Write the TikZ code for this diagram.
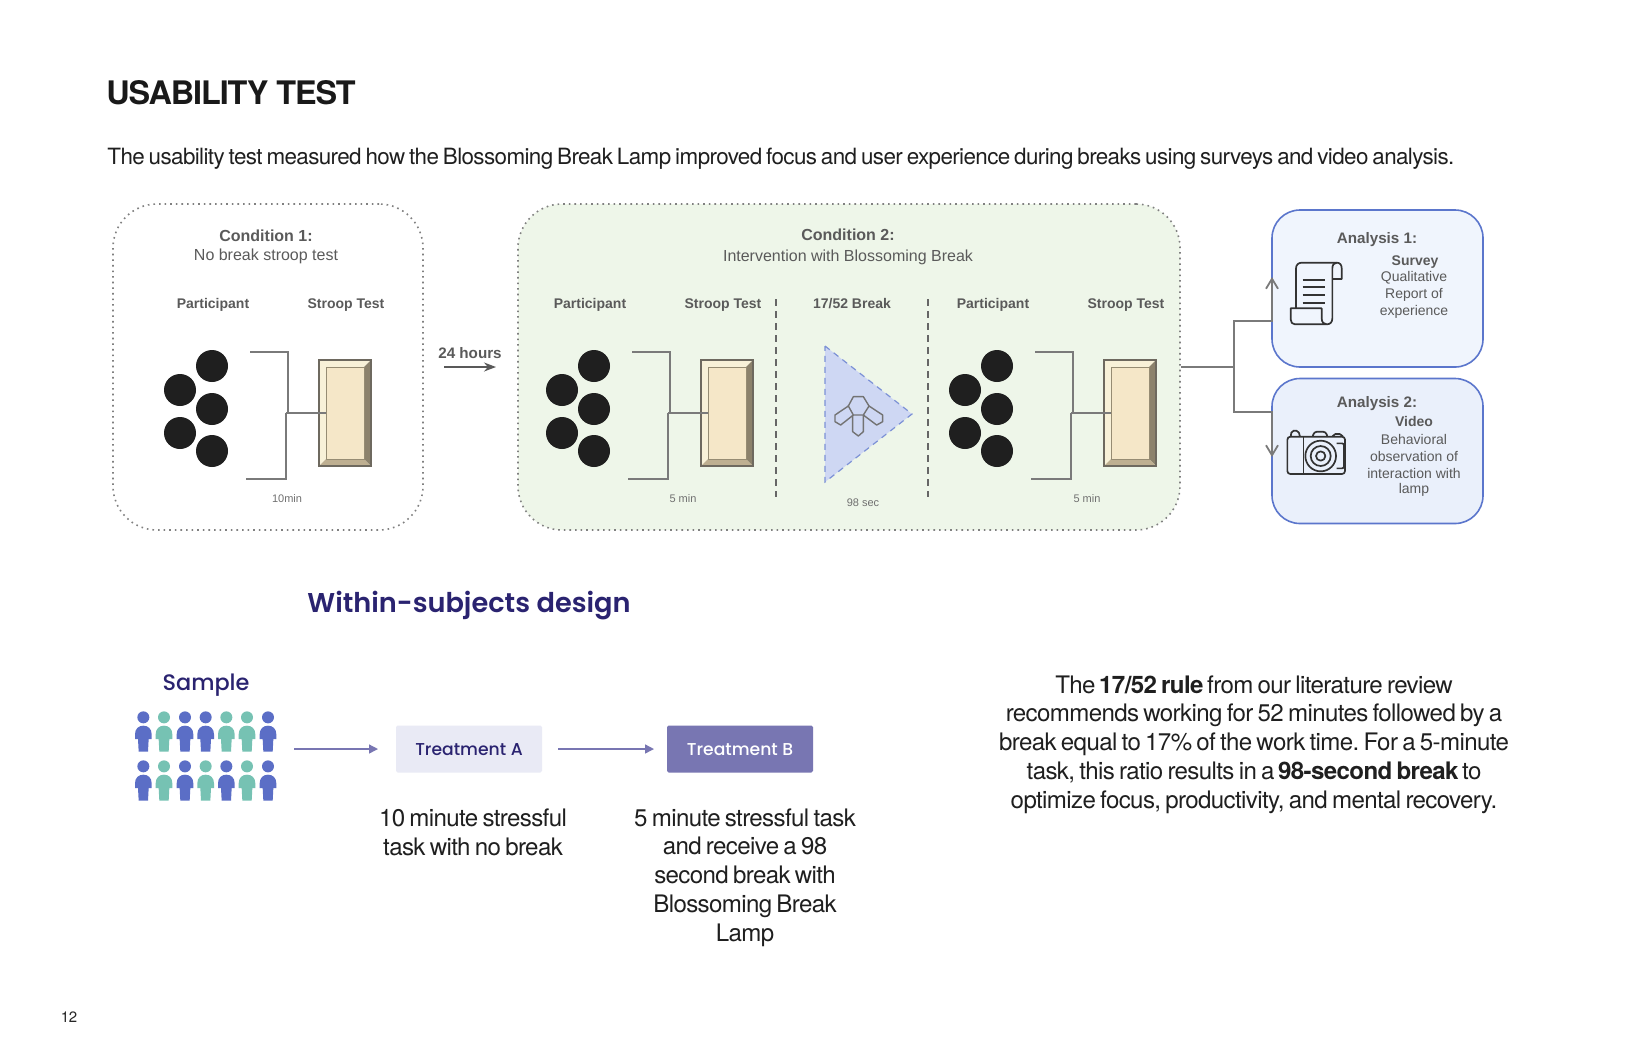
\documentclass[tikz,border=0pt]{standalone}
\usepackage{fontspec}
\setmainfont{Liberation Sans}
\newfontfamily\bodyf[LetterSpace=-2.6,WordSpace=0.7]{TeX Gyre Heros}
\newfontfamily\subf[LetterSpace=-2.7,WordSpace=0.7]{TeX Gyre Heros}
\newfontfamily\titlef[LetterSpace=-3.4]{TeX Gyre Heros}
\newfontfamily\popf{Poppins}
\newfontfamily\popsb{Poppins SemiBold}
\newfontfamily\popmd{Poppins Medium}
\usetikzlibrary{arrows.meta}
\definecolor{navy}{HTML}{2A2370}
\definecolor{dgray}{HTML}{5A5A5A}
\definecolor{lgray}{HTML}{707070}
\definecolor{linegray}{HTML}{7A7A7A}
\definecolor{pblue}{HTML}{5B6EC6}
\definecolor{pgreen}{HTML}{76C2B3}
\definecolor{pur}{HTML}{7876B2}
\definecolor{anblue}{HTML}{5B76CC}
\tikzset{
  dlab/.style={font=\fontsize{7}{8}\selectfont\bfseries,text=dgray,inner sep=0pt},
  hlab/.style={font=\fontsize{8}{9}\selectfont\bfseries,text=dgray,inner sep=0pt},
  hsub/.style={font=\fontsize{8}{9}\selectfont,text=dgray,inner sep=0pt},
  alab/.style={font=\fontsize{7}{8}\selectfont,text=dgray,inner sep=0pt},
  tiny lab/.style={font=\fontsize{5.5}{6}\selectfont,text=lgray,inner sep=0pt},
  bodytxt/.style={font=\bodyf\frenchspacing\fontsize{12.05}{14.4}\selectfont,text=black!88,inner sep=0pt,align=center},
  dotc/.style={circle,fill=black!88,minimum size=16pt,inner sep=0pt,draw=none},
  condbox/.style={rounded corners=22pt,inner sep=0pt,dotted,draw=black!50,line width=.8pt},
  anbox/.style={rounded corners=14pt,inner sep=0pt,draw=anblue,line width=.8pt},
  brk/.style={draw=linegray,line width=.8pt},
  iconln/.style={draw=black!80,line width=.85pt,line join=round},
  tbox/.style={inner sep=0pt,minimum width=73pt,minimum height=23.5pt,rounded corners=.8pt,
     font=\popmd\fontsize{8.6}{10}\selectfont},
  flow/.style={draw=pur,line width=.7pt,-{Triangle[length=4.5pt,width=4.5pt]}},
  pics/partgroup/.style n args={3}{code={
    \node[dlab] (-part) at (213+#2,305) {Participant};
    \node[dlab] (-stl) at (346+#2,305) {Stroop Test};
    \node[dotc] (-c1) at (212,366) {};
    \node[dotc] (-c2) at (180,390) {};
    \node[dotc] (-c3) at (212,409) {};
    \node[dotc] (-c4) at (180,433) {};
    \node[dotc] (-c5) at (212,451) {};
    \fill[fill={rgb,255:red,248;green,241;blue,216}] (319,360) -- (371,360) -- (364,367) -- (326,367) -- (326,459) -- (319,466) -- cycle;
    \fill[fill={rgb,255:red,140;green,130;blue,108}] (371,360) -- (371,466) -- (364,459) -- (364,367) -- cycle;
    \fill[fill={rgb,255:red,190;green,175;blue,145}] (319,466) -- (371,466) -- (364,459) -- (326,459) -- cycle;
    \node[draw={rgb,255:red,110;green,105;blue,95},line width=.6pt,minimum width=26pt,minimum height=53pt,inner sep=0pt] (-st) at (345,413) {};
    \node[fill={rgb,255:red,245;green,231;blue,200},draw={rgb,255:red,150;green,140;blue,115},line width=.4pt,minimum width=19pt,minimum height=46pt,inner sep=0pt] (-sti) at (345,413) {};
    \coordinate (-t) at (250,352);
    \coordinate (-b) at (246,479);
    \draw[brk] (-t) -| (288,413);
    \draw[brk] (-b) -| (286,413);
    \draw[brk] (286,413) -- (-sti.west);
    \node[tiny lab] (-tm) at (287+#3,499) {#1};
  }},
}
\newcommand\person[4]{% #1 colour, #2 x, #3 head y, #4 body top
  \fill[#1] (#2,#3) circle[radius=18];
  \fill[#1] (#2-25,#4+40) -- (#2-25,#4+26) .. controls (#2-25,#4+9) and (#2-14,#4) .. (#2,#4)
    .. controls (#2+14,#4) and (#2+25,#4+9) .. (#2+25,#4+26) -- (#2+25,#4+40) -- (#2+16,#4+40) -- (#2+14,#4+78)
    -- (#2-14,#4+78) -- (#2-16,#4+40) -- cycle;
}
\begin{document}
\begin{tikzpicture}[x=.5pt,y=-.5pt]
\useasboundingbox (0,0) rectangle (1626,1051);
\fill[white] (0,0) rectangle (1626,1051);
% heading
\node[anchor=west,inner sep=0pt,font=\titlef\fontsize{16.2}{18}\selectfont\bfseries,text=black!90] (title) at (106,93) {USABILITY TEST};
\node[anchor=west,inner sep=0pt,font=\subf\fontsize{11.2}{14}\selectfont,text=black!88] (sub) at (107,159) {The usability test measured how the Blossoming Break Lamp improved focus and user experience during breaks using surveys and video analysis.};
% condition containers
\node[condbox,minimum width=155pt,minimum height=163pt] (cond1) at (268,367) {};
\node[condbox,fill={rgb,255:red,238;green,246;blue,233},minimum width=331pt,minimum height=163pt] (cond2) at (849,367) {};
\node[hlab] (c1t) at (266,236) {Condition 1:};
\node[hsub] (c1s) at (266,256) {No break stroop test};
\node[hlab] (c2t) at (848,235) {Condition 2:};
\node[hsub] (c2s) at (848,257) {Intervention with Blossoming Break};
% groups
\pic (g1) at (0,0) {partgroup={10min}{0}{0}};
\pic (g2) at (382,0) {partgroup={5 min}{-5}{14}};
\pic (g3) at (785,0) {partgroup={5 min}{-5}{15}};
% 24 hours
\node[dlab,font=\fontsize{7.6}{9}\selectfont\bfseries] (h24) at (470,353) {24 hours};
\coordinate (h24a) at (444,367);
\coordinate (h24b) at (496,367);
\draw[draw=black!65,line width=.7pt,-{Stealth[length=6pt,width=4.5pt]}] (h24a) -- (h24b);
% break column
\node[dlab] (brk) at (852,304) {17/52 Break};
\coordinate (d1a) at (776,299); \coordinate (d1b) at (776,497);
\coordinate (d2a) at (928,299); \coordinate (d2b) at (928,497);
\draw[draw=black!60,line width=.7pt,dash pattern=on 3.5pt off 2.5pt] (d1a) -- (d1b);
\draw[draw=black!60,line width=.7pt,dash pattern=on 3.5pt off 2.5pt] (d2a) -- (d2b);
\draw[fill={rgb,255:red,206;green,215;blue,243},draw=anblue!80,line width=.6pt,dash pattern=on 3pt off 2.5pt] (825,346) -- (912,414) -- (825,482) -- cycle;
\node[tiny lab] (sec) at (863,503) {98 sec};
\begin{scope}[shift={(720,280)},x=.16667pt,y=-.16667pt]
  \draw[draw=black!55,line width=.7pt,line join=round] (400,350) -- (430,350) -- (447,378) -- (430,405) -- (400,405) -- (385,378) -- cycle;
  \draw[draw=black!55,line width=.7pt,line join=round] (385,378) -- (345,405) -- (345,425) -- (362,435) -- (400,405);
  \draw[draw=black!55,line width=.7pt,line join=round] (447,378) -- (488,405) -- (488,425) -- (470,435) -- (430,405);
  \draw[draw=black!55,line width=.7pt,line join=round] (398,405) -- (398,455) -- (415,468) -- (430,455) -- (430,405);
\end{scope}
% analysis boxes
\node[anbox,fill={rgb,255:red,240;green,245;blue,253},minimum width=105.5pt,minimum height=78.5pt] (an1) at (1377.5,288.5) {};
\node[anbox,fill={rgb,255:red,234;green,240;blue,251},minimum width=105.5pt,minimum height=72.5pt] (an2) at (1377.5,451) {};
\node[hlab,font=\fontsize{7.6}{9}\selectfont\bfseries] (a1t) at (1377,240) {Analysis 1:};
\node[dlab] (a1a) at (1415,262) {Survey};
\node[alab] (a1b) at (1414,278) {Qualitative};
\node[alab] (a1c) at (1414,295) {Report of};
\node[alab] (a1d) at (1414,312) {experience};
\node[hlab,font=\fontsize{7.6}{9}\selectfont\bfseries] (a2t) at (1377,404) {Analysis 2:};
\node[dlab] (a2a) at (1414,421) {Video};
\node[alab] (a2b) at (1414,439) {Behavioral};
\node[alab] (a2c) at (1414,456) {observation of};
\node[alab] (a2d) at (1414,473) {interaction with};
\node[alab] (a2e) at (1414,490) {lamp};
% connector to the analyses
\coordinate (jn) at (1234,367);
\coordinate (up) at (1272,277);
\coordinate (dn) at (1272,457);
\draw[brk] (cond2.east) -- (jn);
\draw[brk,-{Straight Barb[length=5pt,width=6pt,line width=.9pt]}] (jn) |- (1272,321) -- (up);
\draw[brk,-{Straight Barb[length=5pt,width=6pt,line width=.9pt]}] (jn) |- (1272,412) -- (dn);
% scroll icon
\begin{scope}[shift={(1170,200)},x=.16667pt,y=-.16667pt]
  \draw[iconln] (378,325) -- (378,205) .. controls (378,195) and (385,188) .. (395,188) -- (500,188) .. controls (510,188) and (515,195) .. (515,205) -- (515,237) -- (487,237);
  \draw[iconln] (500,188) .. controls (492,188) and (487,195) .. (487,205) -- (487,355) .. controls (487,367) and (480,373) .. (470,373) -- (375,373) .. controls (367,373) and (362,367) .. (362,358) -- (362,325) -- (455,325) -- (455,355) .. controls (455,367) and (462,373) .. (470,373);
  \draw[iconln] (398,240) -- (465,240);
  \draw[iconln] (398,262) -- (465,262);
  \draw[iconln] (398,285) -- (465,285);
  \draw[iconln] (398,308) -- (465,308);
  % camera icon
  \draw[iconln,rounded corners=1.5pt] (352,822) rectangle (525,710);
  \draw[iconln] (400,710) -- (400,822);
  \draw[iconln,rounded corners=1pt] (362,710) -- (365,692) -- (385,692) -- (390,710);
  \draw[iconln,rounded corners=1.5pt] (428,710) -- (432,695) -- (468,695) -- (472,710);
  \draw[iconln,rounded corners=1pt] (488,710) -- (490,702) -- (515,702) -- (518,710);
  \draw[iconln] (452,768) circle[radius=46];
  \draw[iconln] (452,768) circle[radius=30];
  \draw[iconln] (452,768) circle[radius=14];
  \draw[iconln,rounded corners=1pt] (500,730) -- (522,730) -- (522,805) -- (500,805);
\end{scope}
% within-subjects
\node[anchor=west,inner sep=0pt,font=\popsb\fontsize{13.6}{16}\selectfont,text=navy] (ws) at (307,606) {Within-subjects design};
\node[inner sep=0pt,font=\popmd\fontsize{11.2}{13}\selectfont,text=navy] (samp) at (206,685) {Sample};
\begin{scope}[shift={(120,660)},x=.16667pt,y=-.16667pt]
  \person{pblue}{70}{172}{197}\person{pgreen}{132}{172}{197}\person{pblue}{195}{172}{197}\person{pblue}{257}{172}{197}\person{pgreen}{319}{172}{197}\person{pgreen}{381}{172}{197}\person{pblue}{444}{172}{197}
  \person{pblue}{70}{319}{344}\person{pgreen}{132}{319}{344}\person{pblue}{195}{319}{344}\person{pgreen}{257}{319}{344}\person{pblue}{319}{319}{344}\person{pgreen}{381}{319}{344}\person{pblue}{444}{319}{344}
\end{scope}
\coordinate (samp-out) at (294,749);
\node[tbox,fill={rgb,255:red,233;green,234;blue,245},text=navy] (ta) at (469,749) {\raisebox{-3.2pt}[0pt][0pt]{Treatment A}};
\node[tbox,fill=pur,text=white] (tb) at (740,749) {\raisebox{-3.2pt}[0pt][0pt]{Treatment B}};
\draw[flow] (samp-out) -- (378,749);
\coordinate (ta-out) at (558,749);
\draw[flow] (ta-out) -- (654,749);
\node[bodytxt] (dA) at (473,832.5) {10 minute stressful\\task with no break};
\node[bodytxt] (dB) at (745,877.5) {5 minute stressful task\\and receive a 98\\second break with\\Blossoming Break\\Lamp};
\node[bodytxt] (para) at (1254,744.5) {The \textbf{17/52 rule} from our literature review\\recommends working for 52 minutes followed by a\\break equal to 17\% of the work time. For a 5-minute\\task, this ratio results in a \textbf{98-second break} to\\optimize focus, productivity, and mental recovery.};
\node[inner sep=0pt,font=\bodyf\fontsize{7.5}{9}\selectfont,text=black!85] (pg) at (69,1017) {12};
\end{tikzpicture}
\end{document}
